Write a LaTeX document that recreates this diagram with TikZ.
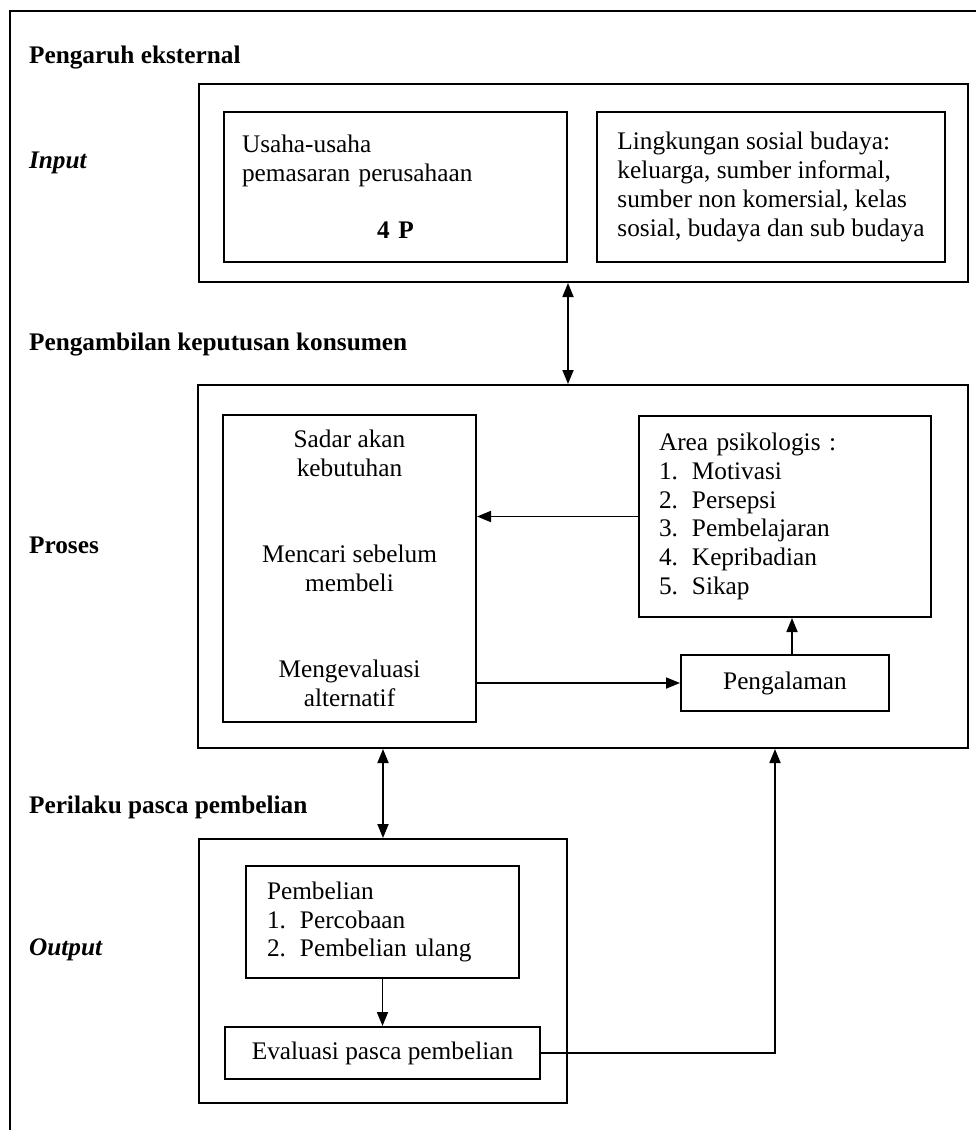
\documentclass[tikz,border=0pt]{standalone}
\usepackage{fontspec}
\setmainfont{Liberation Serif}
\usetikzlibrary{arrows.meta,positioning}

\newcommand{\ukuran}{\fontsize{12.65}{14.4}\selectfont}
\newcommand{\butir}[1]{\makebox[16.5pt][l]{#1}}

\begin{document}
\begin{tikzpicture}[x=0.5pt, y=-0.5pt, font=\ukuran,
    kotak/.style={draw, line width=1pt, inner sep=0pt},
    judul/.style={anchor=base west, font=\ukuran\bfseries},
    miring/.style={font=\ukuran\bfseries\itshape},
    panah/.style={line width=0.9pt, -{Triangle[length=7pt,width=5.5pt]}},
    duapanah/.style={line width=0.9pt, {Triangle[length=7pt,width=5.5pt]}-{Triangle[length=7pt,width=5.5pt]}}]
    \useasboundingbox (0,0) rectangle (976,1130);
    \draw[line width=1.4pt] (976,11) -| (10,1130); % bingkai luar

    % input
    \node[judul] (lblpengaruh) at (22,63) {Pengaruh eksternal};
    \node[judul, miring] (lblinput) at (22,168) {Input};
    \node[kotak, minimum width=384.5pt, minimum height=99pt] (input) at (583.5,183) {};
    \node[kotak, text width=153.5pt, inner xsep=9pt, minimum height=75pt, align=left] (usaha) at (395.5,187)
        {Usaha-usaha\\pemasaran perusahaan\\[14.4pt]\makebox[153.5pt]{\bfseries 4 P}};
    \node[kotak, minimum width=174pt, minimum height=75pt, align=left, right=14pt of usaha] (sosial)
        {Lingkungan sosial budaya:\\keluarga, sumber informal,\\sumber non komersial, kelas\\sosial, budaya dan sub budaya};

    % proses
    \node[judul] (lblkeputusan) at (22,350) {Pengambilan keputusan konsumen};
    \node[judul] (lblproses) at (22,553) {Proses};
    \node[kotak, minimum width=385pt, minimum height=181.5pt] (proses) at (583,566.5) {};
    \node[kotak, minimum width=126.5pt, minimum height=153.5pt, align=center] (tahap) at (349.5,568.5)
        {Sadar akan\\kebutuhan\\[28.8pt]Mencari sebelum\\membeli\\[28.8pt]Mengevaluasi\\alternatif};
    \node[kotak, text width=126pt, inner xsep=10pt, minimum height=100.5pt, align=left] (area) at (785,516.5)
        {Area psikologis :\\\butir{1.}Motivasi\\\butir{2.}Persepsi\\\butir{3.}Pembelajaran\\\butir{4.}Kepribadian\\\butir{5.}Sikap};
    \node[kotak, minimum width=104pt, minimum height=28pt, below=18pt of area] (alaman) {Pengalaman};

    % output
    \node[judul] (lblperilaku) at (22,813) {Perilaku pasca pembelian};
    \node[judul, miring] (lbloutput) at (22,955) {Output};
    \node[kotak, minimum width=184pt, minimum height=132pt] (output) at (383,971) {};
    \node[kotak, text width=115.5pt, inner xsep=10.5pt, minimum height=56pt, align=left] (beli) at (382.5,922)
        {Pembelian\\\butir{1.}Percobaan\\\butir{2.}Pembelian ulang};
    \node[kotak, minimum width=157.5pt, minimum height=26pt, below=23.5pt of beli] (evaluasi) {Evaluasi pasca pembelian};

    \draw[duapanah] (usaha.east |- input.south) -- (usaha.east |- proses.north);
    \draw[panah] (area.west) -- (area.west -| tahap.east);
    \draw[panah] (tahap.east |- alaman.west) -- (alaman.west);
    \draw[panah] ([xshift=3.5pt]alaman.north) -- ([xshift=3.5pt]alaman.north |- area.south);
    \draw[duapanah] (output.north |- proses.south) -- (output.north);
    \draw[panah] (beli) -- (evaluasi);
    \coordinate (balik) at ([xshift=96pt]proses.south);
    \draw[panah] (evaluasi.east) -| (balik);
\end{tikzpicture}
\end{document}
